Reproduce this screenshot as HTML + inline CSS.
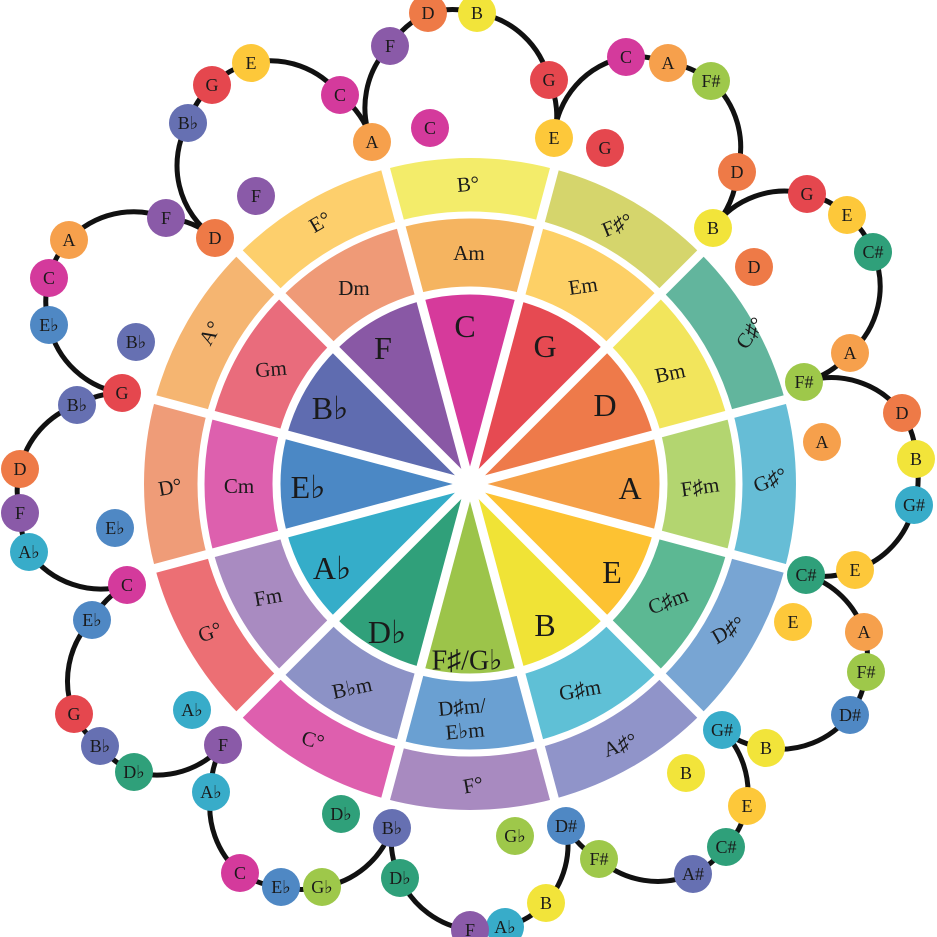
<!DOCTYPE html>
<html><head><meta charset="utf-8"><style>
html,body{margin:0;padding:0;background:#fff;width:937px;height:937px;overflow:hidden}
svg{display:block}
text{font-family:"Liberation Serif","DejaVu Serif",serif;fill:#1a1a1a;text-anchor:middle;dominant-baseline:central}
.k{font-size:32px}
.m{font-size:21px}
.n{font-size:18px}
</style></head><body>
<svg width="937" height="937" viewBox="0 0 937 937" xmlns="http://www.w3.org/2000/svg">
<g fill="none" stroke="#111" stroke-width="5" stroke-linecap="round">
<path d="M215,238 A88,88 0 0 1 188,123 A88,88 0 0 1 212,85 A88,88 0 0 1 251,63 A88,88 0 0 1 340,95 A88,88 0 0 1 372,142"/>
<path d="M372,142 A88,88 0 0 1 390,46 A88,88 0 0 1 428,13 A88,88 0 0 1 477,13 A88,88 0 0 1 549,80 A88,88 0 0 1 554,138"/>
<path d="M554,138 A88,88 0 0 1 626,57 A88,88 0 0 1 668,63 A88,88 0 0 1 711,81 A88,88 0 0 1 737,172 A88,88 0 0 1 713,228"/>
<path d="M713,228 A88,88 0 0 1 807,194 A88,88 0 0 1 847,215 A88,88 0 0 1 873,252 A88,88 0 0 1 850,353 A88,88 0 0 1 804,382"/>
<path d="M804,382 A88,88 0 0 1 902,413 A88,88 0 0 1 916,459 A88,88 0 0 1 914,505 A88,88 0 0 1 855,570 A88,88 0 0 1 806,575"/>
<path d="M806,575 A88,88 0 0 1 864,632 A88,88 0 0 1 866,672 A88,88 0 0 1 850,715 A88,88 0 0 1 766,748 A88,88 0 0 1 722,730"/>
<path d="M722,730 A88,88 0 0 1 747,806 A88,88 0 0 1 726,847 A88,88 0 0 1 693,874 A88,88 0 0 1 599,859 A88,88 0 0 1 566,826"/>
<path d="M566,826 A88,88 0 0 1 546,903 A88,88 0 0 1 505,927 A88,88 0 0 1 470,930 A88,88 0 0 1 400,878 A88,88 0 0 1 392,828"/>
<path d="M392,828 A88,88 0 0 1 322,887 A88,88 0 0 1 281,887 A88,88 0 0 1 240,873 A88,88 0 0 1 211,792 A88,88 0 0 1 223,745"/>
<path d="M223,745 A88,88 0 0 1 134,772 A88,88 0 0 1 100,746 A88,88 0 0 1 74,714 A88,88 0 0 1 92,620 A88,88 0 0 1 127,585"/>
<path d="M127,585 A88,88 0 0 1 29,552 A88,88 0 0 1 20,513 A88,88 0 0 1 20,469 A88,88 0 0 1 77,405 A88,88 0 0 1 122,393"/>
<path d="M122,393 A88,88 0 0 1 49,325 A88,88 0 0 1 49,278 A88,88 0 0 1 69,240 A88,88 0 0 1 166,218 A88,88 0 0 1 215,238"/>
</g>

<g fill="none">
<g stroke-width="54">
<circle cx="470" cy="484" r="299" pathLength="360" stroke-dasharray="30 330" stroke="#f3ec6a" transform="rotate(-105 470 484)"/>
<circle cx="470" cy="484" r="299" pathLength="360" stroke-dasharray="30 330" stroke="#d5d56c" transform="rotate(-75 470 484)"/>
<circle cx="470" cy="484" r="299" pathLength="360" stroke-dasharray="30 330" stroke="#62b59d" transform="rotate(-45 470 484)"/>
<circle cx="470" cy="484" r="299" pathLength="360" stroke-dasharray="30 330" stroke="#66bdd6" transform="rotate(-15 470 484)"/>
<circle cx="470" cy="484" r="299" pathLength="360" stroke-dasharray="30 330" stroke="#78a5d3" transform="rotate(15 470 484)"/>
<circle cx="470" cy="484" r="299" pathLength="360" stroke-dasharray="30 330" stroke="#9094c9" transform="rotate(45 470 484)"/>
<circle cx="470" cy="484" r="299" pathLength="360" stroke-dasharray="30 330" stroke="#a88ac0" transform="rotate(75 470 484)"/>
<circle cx="470" cy="484" r="299" pathLength="360" stroke-dasharray="30 330" stroke="#de5fae" transform="rotate(105 470 484)"/>
<circle cx="470" cy="484" r="299" pathLength="360" stroke-dasharray="30 330" stroke="#ec6f74" transform="rotate(135 470 484)"/>
<circle cx="470" cy="484" r="299" pathLength="360" stroke-dasharray="30 330" stroke="#ef9c78" transform="rotate(165 470 484)"/>
<circle cx="470" cy="484" r="299" pathLength="360" stroke-dasharray="30 330" stroke="#f5b571" transform="rotate(195 470 484)"/>
<circle cx="470" cy="484" r="299" pathLength="360" stroke-dasharray="30 330" stroke="#fdcf6c" transform="rotate(225 470 484)"/>
</g>
<g stroke-width="70">
<circle cx="470" cy="484" r="232" pathLength="360" stroke-dasharray="30 330" stroke="#f5b460" transform="rotate(-105 470 484)"/>
<circle cx="470" cy="484" r="232" pathLength="360" stroke-dasharray="30 330" stroke="#fdd066" transform="rotate(-75 470 484)"/>
<circle cx="470" cy="484" r="232" pathLength="360" stroke-dasharray="30 330" stroke="#f2e55c" transform="rotate(-45 470 484)"/>
<circle cx="470" cy="484" r="232" pathLength="360" stroke-dasharray="30 330" stroke="#b3d570" transform="rotate(-15 470 484)"/>
<circle cx="470" cy="484" r="232" pathLength="360" stroke-dasharray="30 330" stroke="#5cb893" transform="rotate(15 470 484)"/>
<circle cx="470" cy="484" r="232" pathLength="360" stroke-dasharray="30 330" stroke="#5fc0d6" transform="rotate(45 470 484)"/>
<circle cx="470" cy="484" r="232" pathLength="360" stroke-dasharray="30 330" stroke="#6aa0d2" transform="rotate(75 470 484)"/>
<circle cx="470" cy="484" r="232" pathLength="360" stroke-dasharray="30 330" stroke="#8c92c6" transform="rotate(105 470 484)"/>
<circle cx="470" cy="484" r="232" pathLength="360" stroke-dasharray="30 330" stroke="#a98bc1" transform="rotate(135 470 484)"/>
<circle cx="470" cy="484" r="232" pathLength="360" stroke-dasharray="30 330" stroke="#dd60ae" transform="rotate(165 470 484)"/>
<circle cx="470" cy="484" r="232" pathLength="360" stroke-dasharray="30 330" stroke="#e96c7c" transform="rotate(195 470 484)"/>
<circle cx="470" cy="484" r="232" pathLength="360" stroke-dasharray="30 330" stroke="#ef9a77" transform="rotate(225 470 484)"/>
</g>
<g stroke-width="190">
<circle cx="470" cy="484" r="95" pathLength="360" stroke-dasharray="30 330" stroke="#d63a9b" transform="rotate(-105 470 484)"/>
<circle cx="470" cy="484" r="95" pathLength="360" stroke-dasharray="30 330" stroke="#e64a52" transform="rotate(-75 470 484)"/>
<circle cx="470" cy="484" r="95" pathLength="360" stroke-dasharray="30 330" stroke="#ee7a4a" transform="rotate(-45 470 484)"/>
<circle cx="470" cy="484" r="95" pathLength="360" stroke-dasharray="30 330" stroke="#f5a048" transform="rotate(-15 470 484)"/>
<circle cx="470" cy="484" r="95" pathLength="360" stroke-dasharray="30 330" stroke="#fdc232" transform="rotate(15 470 484)"/>
<circle cx="470" cy="484" r="95" pathLength="360" stroke-dasharray="30 330" stroke="#f0e336" transform="rotate(45 470 484)"/>
<circle cx="470" cy="484" r="95" pathLength="360" stroke-dasharray="30 330" stroke="#9cc44a" transform="rotate(75 470 484)"/>
<circle cx="470" cy="484" r="95" pathLength="360" stroke-dasharray="30 330" stroke="#30a07a" transform="rotate(105 470 484)"/>
<circle cx="470" cy="484" r="95" pathLength="360" stroke-dasharray="30 330" stroke="#35adc9" transform="rotate(135 470 484)"/>
<circle cx="470" cy="484" r="95" pathLength="360" stroke-dasharray="30 330" stroke="#4b88c5" transform="rotate(165 470 484)"/>
<circle cx="470" cy="484" r="95" pathLength="360" stroke-dasharray="30 330" stroke="#5f6cb0" transform="rotate(195 470 484)"/>
<circle cx="470" cy="484" r="95" pathLength="360" stroke-dasharray="30 330" stroke="#8958a5" transform="rotate(225 470 484)"/>
</g>
<g stroke="#fff" stroke-width="9">
<line x1="138" y1="484" x2="802" y2="484" transform="rotate(-105 470 484)"/>
<line x1="138" y1="484" x2="802" y2="484" transform="rotate(-75 470 484)"/>
<line x1="138" y1="484" x2="802" y2="484" transform="rotate(-45 470 484)"/>
<line x1="138" y1="484" x2="802" y2="484" transform="rotate(-15 470 484)"/>
<line x1="138" y1="484" x2="802" y2="484" transform="rotate(15 470 484)"/>
<line x1="138" y1="484" x2="802" y2="484" transform="rotate(45 470 484)"/>
</g>
<circle cx="470" cy="484" r="193.5" stroke="#fff" stroke-width="8"/>
<circle cx="470" cy="484" r="269" stroke="#fff" stroke-width="7"/>
<circle cx="470" cy="484" r="9" fill="#fff"/>
</g>

<g>
<text class="k" x="465" y="326">C</text>
<text class="k" x="545" y="346">G</text>
<text class="k" x="605" y="405">D</text>
<text class="k" x="630" y="488">A</text>
<text class="k" x="612" y="572">E</text>
<text class="k" x="545" y="625">B</text>
<text class="k" x="467" y="661" style="font-size:28px">F♯/G♭</text>
<text class="k" x="387" y="632">D♭</text>
<text class="k" x="332" y="568">A♭</text>
<text class="k" x="308" y="487">E♭</text>
<text class="k" x="330" y="408">B♭</text>
<text class="k" x="383" y="348">F</text>
</g>
<g>
<text class="m" x="469" y="253">Am</text>
<text class="m" x="583" y="286" transform="rotate(-8 583 286)">Em</text>
<text class="m" x="670" y="373" transform="rotate(-12 670 373)">Bm</text>
<text class="m" x="700" y="487" transform="rotate(-8 700 487)">F♯m</text>
<text class="m" x="668" y="601" transform="rotate(-20 668 601)">C♯m</text>
<text class="m" x="580" y="690" transform="rotate(-10 580 690)">G♯m</text>
<text class="m" x="462" y="707" transform="rotate(-5 462 707)">D♯m/</text>
<text class="m" x="465" y="731" transform="rotate(-5 465 731)">E♭m</text>
<text class="m" x="352" y="688" transform="rotate(-12 352 688)">B♭m</text>
<text class="m" x="268" y="597" transform="rotate(-10 268 597)">Fm</text>
<text class="m" x="239" y="486">Cm</text>
<text class="m" x="271" y="369" transform="rotate(-5 271 369)">Gm</text>
<text class="m" x="354" y="288">Dm</text>
</g>
<g>
<text class="m" x="468" y="184" transform="rotate(-5 468 184)">B°</text>
<text class="m" x="617" y="225" transform="rotate(-22 617 225)">F♯°</text>
<text class="m" x="750" y="333" transform="rotate(-55 750 333)">C♯°</text>
<text class="m" x="770" y="480" transform="rotate(-22 770 480)">G♯°</text>
<text class="m" x="728" y="630" transform="rotate(-30 728 630)">D♯°</text>
<text class="m" x="620" y="745" transform="rotate(-20 620 745)">A♯°</text>
<text class="m" x="473" y="785" transform="rotate(-10 473 785)">F°</text>
<text class="m" x="313" y="740" transform="rotate(15 313 740)">C°</text>
<text class="m" x="210" y="632" transform="rotate(-20 210 632)">G°</text>
<text class="m" x="170" y="487" transform="rotate(-10 170 487)">D°</text>
<text class="m" x="210" y="333" transform="rotate(-60 210 333)">A°</text>
<text class="m" x="320" y="222" transform="rotate(-30 320 222)">E°</text>
</g>

<g>
<circle cx="215" cy="238" r="19" fill="#ee7a47"/><text class="n" x="215" y="238">D</text>
<circle cx="188" cy="123" r="19" fill="#6670b2"/><text class="n" x="188" y="123">B♭</text>
<circle cx="212" cy="85" r="19" fill="#e5474e"/><text class="n" x="212" y="85">G</text>
<circle cx="251" cy="63" r="19" fill="#fdc83a"/><text class="n" x="251" y="63">E</text>
<circle cx="340" cy="95" r="19" fill="#d43a9c"/><text class="n" x="340" y="95">C</text>
<circle cx="372" cy="142" r="19" fill="#f6a04c"/><text class="n" x="372" y="142">A</text>
<circle cx="390" cy="46" r="19" fill="#8a5aa8"/><text class="n" x="390" y="46">F</text>
<circle cx="428" cy="13" r="19" fill="#ee7a47"/><text class="n" x="428" y="13">D</text>
<circle cx="477" cy="13" r="19" fill="#f2e43a"/><text class="n" x="477" y="13">B</text>
<circle cx="549" cy="80" r="19" fill="#e5474e"/><text class="n" x="549" y="80">G</text>
<circle cx="554" cy="138" r="19" fill="#fdc83a"/><text class="n" x="554" y="138">E</text>
<circle cx="626" cy="57" r="19" fill="#d43a9c"/><text class="n" x="626" y="57">C</text>
<circle cx="668" cy="63" r="19" fill="#f6a04c"/><text class="n" x="668" y="63">A</text>
<circle cx="711" cy="81" r="19" fill="#9ec84a"/><text class="n" x="711" y="81">F#</text>
<circle cx="737" cy="172" r="19" fill="#ee7a47"/><text class="n" x="737" y="172">D</text>
<circle cx="713" cy="228" r="19" fill="#f2e43a"/><text class="n" x="713" y="228">B</text>
<circle cx="807" cy="194" r="19" fill="#e5474e"/><text class="n" x="807" y="194">G</text>
<circle cx="847" cy="215" r="19" fill="#fdc83a"/><text class="n" x="847" y="215">E</text>
<circle cx="873" cy="252" r="19" fill="#2fa07a"/><text class="n" x="873" y="252">C#</text>
<circle cx="850" cy="353" r="19" fill="#f6a04c"/><text class="n" x="850" y="353">A</text>
<circle cx="804" cy="382" r="19" fill="#9ec84a"/><text class="n" x="804" y="382">F#</text>
<circle cx="902" cy="413" r="19" fill="#ee7a47"/><text class="n" x="902" y="413">D</text>
<circle cx="916" cy="459" r="19" fill="#f2e43a"/><text class="n" x="916" y="459">B</text>
<circle cx="914" cy="505" r="19" fill="#38acc9"/><text class="n" x="914" y="505">G#</text>
<circle cx="855" cy="570" r="19" fill="#fdc83a"/><text class="n" x="855" y="570">E</text>
<circle cx="806" cy="575" r="19" fill="#2fa07a"/><text class="n" x="806" y="575">C#</text>
<circle cx="864" cy="632" r="19" fill="#f6a04c"/><text class="n" x="864" y="632">A</text>
<circle cx="866" cy="672" r="19" fill="#9ec84a"/><text class="n" x="866" y="672">F#</text>
<circle cx="850" cy="715" r="19" fill="#4f88c4"/><text class="n" x="850" y="715">D#</text>
<circle cx="766" cy="748" r="19" fill="#f2e43a"/><text class="n" x="766" y="748">B</text>
<circle cx="722" cy="730" r="19" fill="#38acc9"/><text class="n" x="722" y="730">G#</text>
<circle cx="747" cy="806" r="19" fill="#fdc83a"/><text class="n" x="747" y="806">E</text>
<circle cx="726" cy="847" r="19" fill="#2fa07a"/><text class="n" x="726" y="847">C#</text>
<circle cx="693" cy="874" r="19" fill="#6670b2"/><text class="n" x="693" y="874">A#</text>
<circle cx="599" cy="859" r="19" fill="#9ec84a"/><text class="n" x="599" y="859">F#</text>
<circle cx="566" cy="826" r="19" fill="#4f88c4"/><text class="n" x="566" y="826">D#</text>
<circle cx="546" cy="903" r="19" fill="#f2e43a"/><text class="n" x="546" y="903">B</text>
<circle cx="505" cy="927" r="19" fill="#38acc9"/><text class="n" x="505" y="927">A♭</text>
<circle cx="470" cy="930" r="19" fill="#8a5aa8"/><text class="n" x="470" y="930">F</text>
<circle cx="400" cy="878" r="19" fill="#2fa07a"/><text class="n" x="400" y="878">D♭</text>
<circle cx="392" cy="828" r="19" fill="#6670b2"/><text class="n" x="392" y="828">B♭</text>
<circle cx="322" cy="887" r="19" fill="#9ec84a"/><text class="n" x="322" y="887">G♭</text>
<circle cx="281" cy="887" r="19" fill="#4f88c4"/><text class="n" x="281" y="887">E♭</text>
<circle cx="240" cy="873" r="19" fill="#d43a9c"/><text class="n" x="240" y="873">C</text>
<circle cx="211" cy="792" r="19" fill="#38acc9"/><text class="n" x="211" y="792">A♭</text>
<circle cx="223" cy="745" r="19" fill="#8a5aa8"/><text class="n" x="223" y="745">F</text>
<circle cx="134" cy="772" r="19" fill="#2fa07a"/><text class="n" x="134" y="772">D♭</text>
<circle cx="100" cy="746" r="19" fill="#6670b2"/><text class="n" x="100" y="746">B♭</text>
<circle cx="74" cy="714" r="19" fill="#e5474e"/><text class="n" x="74" y="714">G</text>
<circle cx="92" cy="620" r="19" fill="#4f88c4"/><text class="n" x="92" y="620">E♭</text>
<circle cx="127" cy="585" r="19" fill="#d43a9c"/><text class="n" x="127" y="585">C</text>
<circle cx="29" cy="552" r="19" fill="#38acc9"/><text class="n" x="29" y="552">A♭</text>
<circle cx="20" cy="513" r="19" fill="#8a5aa8"/><text class="n" x="20" y="513">F</text>
<circle cx="20" cy="469" r="19" fill="#ee7a47"/><text class="n" x="20" y="469">D</text>
<circle cx="77" cy="405" r="19" fill="#6670b2"/><text class="n" x="77" y="405">B♭</text>
<circle cx="122" cy="393" r="19" fill="#e5474e"/><text class="n" x="122" y="393">G</text>
<circle cx="49" cy="325" r="19" fill="#4f88c4"/><text class="n" x="49" y="325">E♭</text>
<circle cx="49" cy="278" r="19" fill="#d43a9c"/><text class="n" x="49" y="278">C</text>
<circle cx="69" cy="240" r="19" fill="#f6a04c"/><text class="n" x="69" y="240">A</text>
<circle cx="166" cy="218" r="19" fill="#8a5aa8"/><text class="n" x="166" y="218">F</text>
<circle cx="430" cy="128" r="19" fill="#d43a9c"/><text class="n" x="430" y="128">C</text>
<circle cx="605" cy="148" r="19" fill="#e5474e"/><text class="n" x="605" y="148">G</text>
<circle cx="754" cy="267" r="19" fill="#ee7a47"/><text class="n" x="754" y="267">D</text>
<circle cx="822" cy="442" r="19" fill="#f6a04c"/><text class="n" x="822" y="442">A</text>
<circle cx="793" cy="622" r="19" fill="#fdc83a"/><text class="n" x="793" y="622">E</text>
<circle cx="686" cy="773" r="19" fill="#f2e43a"/><text class="n" x="686" y="773">B</text>
<circle cx="515" cy="836" r="19" fill="#9ec84a"/><text class="n" x="515" y="836">G♭</text>
<circle cx="341" cy="814" r="19" fill="#2fa07a"/><text class="n" x="341" y="814">D♭</text>
<circle cx="192" cy="710" r="19" fill="#38acc9"/><text class="n" x="192" y="710">A♭</text>
<circle cx="115" cy="528" r="19" fill="#4f88c4"/><text class="n" x="115" y="528">E♭</text>
<circle cx="136" cy="342" r="19" fill="#6670b2"/><text class="n" x="136" y="342">B♭</text>
<circle cx="256" cy="196" r="19" fill="#8a5aa8"/><text class="n" x="256" y="196">F</text>
</g>
</svg>
</body></html>
